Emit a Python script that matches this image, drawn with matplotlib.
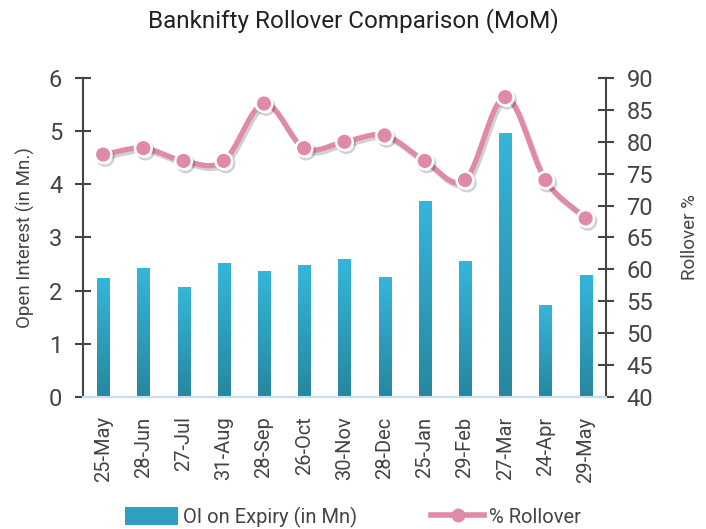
import numpy as np
import matplotlib
matplotlib.use("Agg")
import matplotlib.pyplot as plt
import matplotlib.patheffects as pe
from matplotlib.colors import LinearSegmentedColormap
from matplotlib.patches import Patch
from matplotlib.lines import Line2D

categories = ["25-May", "28-Jun", "27-Jul", "31-Aug", "28-Sep", "26-Oct", "30-Nov",
              "28-Dec", "25-Jan", "29-Feb", "27-Mar", "24-Apr", "29-May"]
oi_values = [2.24, 2.42, 2.07, 2.52, 2.37, 2.48, 2.59, 2.25, 3.68, 2.56, 4.97, 1.73, 2.29]
rollover = [78, 79, 77, 77, 86, 79, 80, 81, 77, 74, 87, 74, 68]
left_ticks = [0, 1, 2, 3, 4, 5, 6]
right_ticks = [40, 45, 50, 55, 60, 65, 70, 75, 80, 85, 90]

plt.rcParams['font.family'] = ['Roboto', 'DejaVu Sans']
text_col = "#444444"
axis_col = "#444444"
pink = "#E08BA5"
bar_top = "#36B6DA"
bar_bot = "#26879F"

fig = plt.figure(figsize=(7.06, 5.29), dpi=100)
ax = fig.add_axes([0.1176, 0.2495, 0.7404, 0.6031])
ax2 = ax.twinx()

x = np.arange(len(categories))
bars = ax.bar(x, oi_values, width=0.3, color=bar_top, zorder=2)
cmap = LinearSegmentedColormap.from_list("g", [bar_bot, bar_top])
grad = np.linspace(0, 1, 256).reshape(-1, 1)
for b in bars:
    x0, y0 = b.get_x(), b.get_y()
    w, h = b.get_width(), b.get_height()
    im = ax.imshow(grad, extent=[x0, x0 + w, y0, y0 + h], origin="lower",
                   cmap=cmap, aspect="auto", zorder=3)
    im.set_clip_path(b)

ax.set_xlim(-0.5, len(categories) - 0.5)
ax.set_ylim(0, 6)
ax.set_yticks(left_ticks)
ax.set_xticks(x)
ax.set_xticklabels(categories, rotation=90, fontsize=14.5, color=text_col)
ax.tick_params(axis="x", length=0, pad=14)
ax.tick_params(axis="y", direction="inout", length=12, width=1.5, color=axis_col,
               labelsize=17, labelcolor=text_col, pad=9)
ax.set_ylabel("Open Interest (in Mn.)", fontsize=13.5, color=text_col, labelpad=10)

# smooth curve through the points (Catmull-Rom)
xs, ys = [], []
pts = np.array(list(zip(x, rollover)), dtype=float)
P = np.vstack([pts[0] - (pts[1] - pts[0]), pts, pts[-1] + (pts[-1] - pts[-2])])
t = np.linspace(0, 1, 30)
for i in range(1, len(P) - 2):
    p0, p1, p2, p3 = P[i - 1], P[i], P[i + 1], P[i + 2]
    for tt in t:
        c = 0.5 * ((2 * p1) + (-p0 + p2) * tt + (2 * p0 - 5 * p1 + 4 * p2 - p3) * tt ** 2
                   + (-p0 + 3 * p1 - 3 * p2 + p3) * tt ** 3)
        xs.append(c[0]); ys.append(c[1])
ax2.plot(xs, ys, color=pink, lw=3.8, solid_capstyle="round", zorder=4,
         path_effects=[pe.SimpleLineShadow(offset=(1.5, -2), alpha=0.18, shadow_color="k"), pe.Normal()])
ax2.plot(x, rollover, ls="none", marker="o", ms=12, mfc=pink, mec="white", mew=1.8, zorder=5,
         path_effects=[pe.SimpleLineShadow(offset=(1.5, -2), alpha=0.18, shadow_color="k"), pe.Normal()])
ax2.set_ylim(40, 90)
ax2.set_yticks(right_ticks)
ax2.tick_params(axis="y", direction="inout", length=12, width=1.5, color=axis_col,
                labelsize=17, labelcolor=text_col, pad=9)
ax2.set_ylabel("Rollover %", fontsize=13.5, color=text_col, labelpad=20)

for a in (ax, ax2):
    a.spines["top"].set_visible(False)
    a.spines["bottom"].set_color("#C9DDF0")
    a.spines["bottom"].set_linewidth(1.5)
    a.spines["left"].set_color(axis_col)
    a.spines["right"].set_color(axis_col)
    a.spines["left"].set_linewidth(1.5)
    a.spines["right"].set_linewidth(1.5)
ax2.spines["left"].set_visible(False)
ax.spines["right"].set_visible(False)

fig.text(0.5, 0.962, "Banknifty Rollover Comparison (MoM)", ha="center", va="center",
         fontsize=17.5, color="#222222")

handles = [Patch(facecolor="#2E9FBF", edgecolor="none"),
           Line2D([0], [0], color=pink, lw=4, marker="o", ms=9, mfc=pink, mec=pink)]
fig.legend(handles, ["OI on Expiry (in Mn)", "% Rollover"], loc="center",
           bbox_to_anchor=(0.50, 0.022), ncol=2, frameon=False, fontsize=14.5,
           handlelength=2.6, handleheight=1.0, columnspacing=3.7, handletextpad=0.25,
           labelcolor=text_col)

fig.savefig("out.png", dpi=100)
